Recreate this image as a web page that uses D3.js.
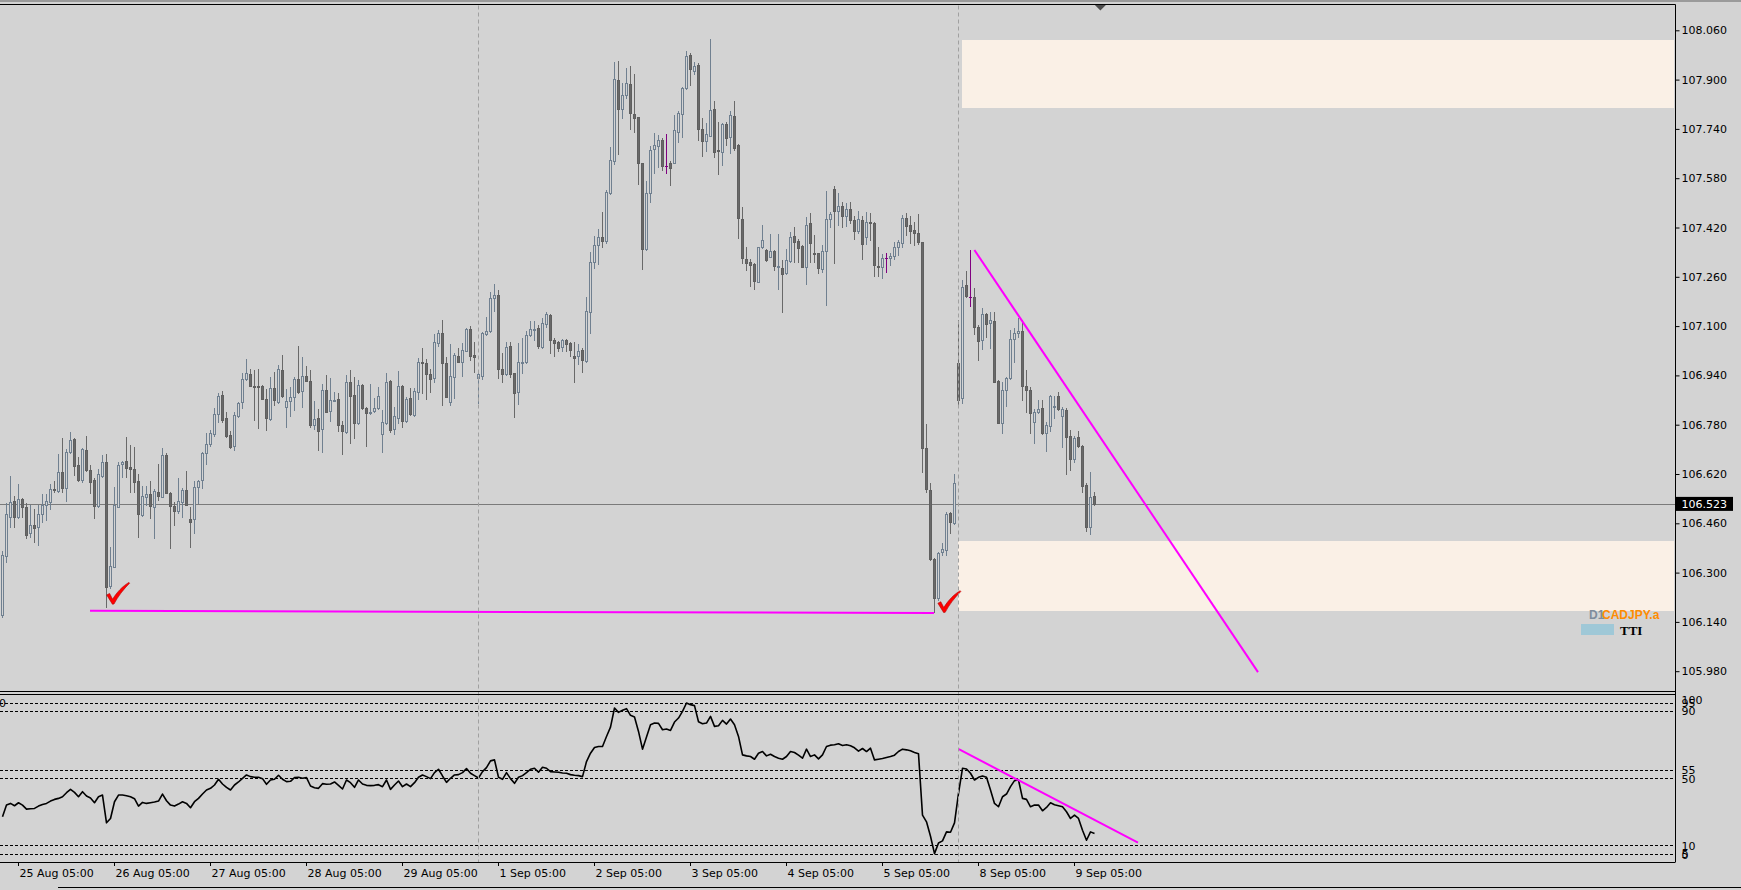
<!DOCTYPE html>
<html><head><meta charset="utf-8">
<script src="https://cdn.jsdelivr.net/npm/d3@7/dist/d3.min.js"></script>
<style>
html,body{margin:0;padding:0;background:#d3d3d3;overflow:hidden;}
svg{display:block;}
</style></head><body>
<svg id="chart" width="1741" height="890"></svg>
<script>
// ---------- DATA (hourly candles, bar 0 = 25 Aug 01:00) ----------
const opens = [
106.162,106.355,106.481,106.532,106.481,106.538,106.512,106.427,106.454,106.449,
106.489,106.519,106.530,106.571,106.565,106.625,106.576,106.690,106.732,106.649,
106.600,106.697,106.632,106.602,106.517,106.614,106.658,106.256,106.319,106.514,
106.651,106.662,106.644,106.636,106.597,106.487,106.546,106.555,106.514,106.563,
106.546,106.682,106.559,106.516,106.501,106.528,106.568,106.474,106.474,106.579,
106.600,106.687,106.716,106.749,106.814,106.876,106.801,106.746,106.712,106.809,
106.855,106.927,106.944,106.905,106.905,106.905,106.863,106.798,106.898,106.853,
106.958,106.836,106.858,106.871,106.928,106.890,106.938,106.922,106.779,106.801,
106.765,106.893,106.826,106.858,106.863,106.779,106.757,106.917,106.876,106.784,
106.909,106.833,106.817,106.824,106.833,106.749,106.784,106.922,106.765,106.803,
106.906,106.793,106.866,106.811,106.887,106.982,106.979,106.943,106.930,107.046,
107.076,106.979,106.855,106.936,107.003,106.985,107.020,107.091,107.006,106.930,
106.939,107.074,107.084,107.190,107.201,106.961,106.943,107.037,106.947,106.885,
106.981,106.982,107.071,107.087,107.093,107.033,107.107,107.136,107.055,107.047,
107.031,107.055,107.044,107.003,107.004,107.022,106.988,107.147,107.307,107.363,
107.390,107.377,107.531,107.637,107.899,107.804,107.850,107.886,107.787,107.778,
107.628,107.350,107.533,107.674,107.686,107.704,107.620,107.630,107.630,107.731,
107.787,107.872,107.980,107.929,107.947,107.739,107.702,107.718,107.805,107.672,
107.666,107.756,107.713,107.782,107.688,107.448,107.318,107.309,107.300,107.244,
107.356,107.347,107.325,107.344,107.293,107.287,107.271,107.311,107.392,107.376,
107.360,107.293,107.433,107.336,107.336,107.285,107.344,107.447,107.544,107.472,
107.490,107.456,107.479,107.445,107.410,107.445,107.388,107.437,107.434,107.295,
107.291,107.320,107.320,107.328,107.356,107.371,107.450,107.429,107.412,107.401,
107.372,106.704,106.568,106.344,106.217,106.368,106.374,106.493,106.460,106.979,
106.868,107.234,107.196,107.194,107.098,107.055,107.140,107.111,107.118,106.923,
106.787,106.893,106.933,107.058,107.077,107.084,106.906,106.893,106.788,106.820,
106.833,106.752,106.777,106.838,106.873,106.809,106.828,106.744,106.668,106.739,
106.711,106.585,106.449,106.547];
const highs = [
106.370,106.525,106.613,106.548,106.586,106.541,106.525,106.519,106.508,106.519,
106.554,106.555,106.586,106.598,106.684,106.738,106.701,106.755,106.736,106.676,
106.703,106.743,106.649,106.606,106.636,106.682,106.684,106.384,106.579,106.658,
106.662,106.741,106.714,106.709,106.619,106.581,106.581,106.597,106.570,106.651,
106.703,106.687,106.563,106.530,106.606,106.576,106.630,106.512,106.598,106.600,
106.692,106.752,106.763,106.835,106.884,106.889,106.822,106.761,106.822,106.855,
106.947,106.992,106.961,106.957,106.961,106.909,106.896,106.934,106.950,106.974,
107.006,106.895,106.903,106.936,107.035,107.001,106.970,106.958,106.858,106.830,
106.912,106.941,106.930,106.885,106.882,106.792,106.941,106.958,106.936,106.925,
106.911,106.838,106.912,106.866,106.901,106.828,106.947,106.925,106.838,106.955,
106.909,106.871,106.900,106.898,106.998,107.028,106.993,106.961,107.073,107.087,
107.120,106.999,107.041,107.012,107.028,107.044,107.093,107.101,107.047,106.958,
107.082,107.131,107.210,107.237,107.217,107.012,107.049,107.047,106.949,107.046,
107.062,107.084,107.118,107.117,107.104,107.125,107.147,107.139,107.060,107.053,
107.058,107.058,107.047,107.049,107.041,107.028,107.195,107.341,107.392,107.415,
107.471,107.542,107.682,107.958,107.960,107.888,107.939,107.945,107.917,107.780,
107.630,107.571,107.686,107.726,107.720,107.712,107.723,107.636,107.785,107.798,
107.877,107.993,107.985,107.956,107.953,107.774,107.760,108.032,107.832,107.761,
107.758,107.763,107.798,107.831,107.690,107.488,107.358,107.318,107.304,107.358,
107.428,107.350,107.399,107.347,107.399,107.314,107.350,107.406,107.423,107.382,
107.363,107.455,107.466,107.396,107.338,107.363,107.537,107.470,107.556,107.533,
107.504,107.501,107.504,107.456,107.472,107.456,107.469,107.466,107.437,107.356,
107.334,107.336,107.336,107.372,107.380,107.461,107.466,107.456,107.437,107.463,
107.374,106.781,106.590,106.347,106.368,106.395,106.498,106.496,106.620,107.120,
107.248,107.280,107.347,107.223,107.102,107.158,107.142,107.147,107.147,106.925,
106.917,106.934,107.088,107.093,107.126,107.120,106.958,106.902,106.830,106.860,
106.860,106.788,106.875,106.873,106.885,106.836,106.833,106.763,106.744,106.761,
106.714,106.590,106.625,106.563];
const lows = [
106.157,106.335,106.449,106.449,106.476,106.481,106.411,106.416,106.400,106.389,
106.465,106.471,106.506,106.563,106.563,106.563,106.532,106.687,106.617,106.598,
106.595,106.630,106.557,106.476,106.514,106.611,106.189,106.249,106.317,106.512,
106.609,106.611,106.563,106.563,106.416,106.485,106.519,106.476,106.413,106.535,
106.544,106.557,106.381,106.454,106.492,106.479,106.519,106.384,106.429,106.525,
106.573,106.651,106.712,106.744,106.790,106.790,106.741,106.706,106.698,106.806,
106.833,106.925,106.904,106.795,106.768,106.863,106.763,106.795,106.845,106.849,
106.871,106.774,106.809,106.828,106.884,106.838,106.921,106.774,106.765,106.698,
106.692,106.820,106.793,106.857,106.761,106.684,106.752,106.722,106.736,106.781,
106.831,106.712,106.815,106.822,106.831,106.690,106.782,106.757,106.750,106.787,
106.771,106.790,106.811,106.809,106.863,106.884,106.863,106.885,106.920,107.036,
106.844,106.869,106.844,106.868,106.982,106.938,107.019,106.990,106.952,106.849,
106.927,107.070,107.082,107.149,106.930,106.920,106.941,106.934,106.806,106.847,
106.947,106.979,107.069,107.055,107.028,107.028,107.098,107.012,107.004,107.019,
107.020,107.019,107.004,106.920,106.976,106.952,106.982,107.079,107.290,107.300,
107.356,107.369,107.529,107.626,107.657,107.776,107.839,107.740,107.731,107.560,
107.285,107.347,107.504,107.596,107.615,107.607,107.598,107.558,107.628,107.699,
107.715,107.868,107.883,107.917,107.704,107.653,107.669,107.716,107.648,107.593,
107.623,107.688,107.661,107.672,107.385,107.304,107.282,107.231,107.220,107.242,
107.353,107.312,107.323,107.282,107.220,107.147,107.268,107.309,107.307,107.307,
107.291,107.237,107.307,107.307,107.271,107.277,107.169,107.423,107.306,107.429,
107.423,107.426,107.434,107.383,107.401,107.317,107.366,107.380,107.261,107.261,
107.255,107.274,107.299,107.317,107.331,107.356,107.396,107.371,107.364,107.367,
106.625,106.563,106.341,106.173,106.211,106.357,106.357,106.428,106.457,106.844,
106.850,107.196,107.166,107.074,106.990,107.026,107.066,107.028,106.918,106.785,
106.752,106.841,106.929,106.985,107.066,106.860,106.820,106.752,106.720,106.817,
106.750,106.696,106.758,106.801,106.828,106.709,106.619,106.633,106.658,106.709,
106.563,106.435,106.424,106.520];
const closes = [
106.357,106.489,106.528,106.481,106.538,106.512,106.422,106.456,106.446,106.489,
106.519,106.532,106.571,106.567,106.625,106.576,106.690,106.729,106.647,106.600,
106.700,106.633,106.595,106.517,106.619,106.659,106.254,106.321,106.519,106.649,
106.660,106.640,106.636,106.595,106.489,106.548,106.555,106.517,106.566,106.550,
106.682,106.559,106.517,106.501,106.532,106.568,106.521,106.465,106.577,106.597,
106.689,106.717,106.752,106.814,106.873,106.795,106.744,106.709,106.811,106.852,
106.928,106.947,106.907,106.901,106.901,106.865,106.801,106.898,106.860,106.961,
106.874,106.857,106.869,106.928,106.887,106.938,106.923,106.779,106.797,106.761,
106.893,106.822,106.860,106.860,106.779,106.761,106.917,106.874,106.787,106.909,
106.833,106.817,106.822,106.835,106.873,106.790,106.917,106.763,106.808,106.906,
106.793,106.863,106.815,106.889,106.982,106.979,106.943,106.928,107.047,107.076,
106.979,106.871,106.938,107.005,106.985,107.022,107.091,107.003,107.001,106.943,
107.076,107.084,107.190,107.201,106.960,106.943,107.033,106.944,106.882,106.982,
106.982,107.071,107.090,107.091,107.036,107.109,107.138,107.055,107.044,107.030,
107.055,107.041,107.024,106.995,107.020,106.990,107.149,107.307,107.363,107.388,
107.377,107.534,107.639,107.901,107.805,107.850,107.888,107.791,107.776,107.628,
107.350,107.531,107.672,107.688,107.704,107.621,107.620,107.612,107.736,107.791,
107.872,107.977,107.934,107.944,107.739,107.702,107.723,107.801,107.666,107.668,
107.756,107.709,107.785,107.677,107.450,107.320,107.306,107.298,107.247,107.356,
107.379,107.314,107.344,107.296,107.295,107.268,107.314,107.388,107.374,107.352,
107.293,107.428,107.369,107.333,107.287,107.344,107.447,107.463,107.472,107.490,
107.456,107.479,107.443,107.409,107.447,107.366,107.437,107.434,107.297,107.293,
107.320,107.320,107.328,107.356,107.372,107.450,107.425,107.410,107.401,107.372,
106.704,106.570,106.343,106.219,106.363,106.376,106.489,106.463,106.590,106.860,
107.226,107.199,107.196,107.098,107.053,107.140,107.107,107.120,106.920,106.787,
106.893,106.931,107.058,107.077,107.084,106.907,106.891,106.817,106.820,106.831,
106.752,106.779,106.873,106.840,106.830,106.830,106.739,106.668,106.738,106.712,
106.581,106.449,106.545,106.523];
const rsi = [
27,34,35,33.6,35.4,34,31.6,31.8,32,33.4,
34.4,35,36.4,37.4,38,39,41.4,43.4,41.6,39,
42,39.4,38.2,35.4,39,40,23.4,26,36,40,
40,39.6,39,37.8,33.4,35.6,35,35.4,35.8,36.4,
40.6,36.6,34,33.4,34.6,36,35,32.4,36,38,
40.6,43,44,46,49.4,46.6,44.6,43,46,47.8,
50,52,51,50.6,50.6,49.8,46.4,49,49.4,51.8,
49.4,48,48.2,50.4,50.6,50,50.4,45.4,44.4,44,
46.8,46.4,46.6,47.8,45.8,43.6,49,47.4,44.6,49,
46.6,45.8,45.6,45.8,46.2,45,49,43.4,46,48.4,
45,46.6,45,47.4,50.6,52,51,49.8,53.4,55.4,
51.4,47.6,50,52,52.2,53.4,55.8,53,51.6,50.2,
54,56.4,60.4,61,50.6,49.4,53.4,49.8,47,50.6,
51.6,53.4,55.4,56,53.6,56.6,56,54,53.8,53.6,
53.2,53,52.2,51.8,51.6,51,60,65,68.4,69,
69,75,80.6,92,89.4,90.6,91.6,87.6,86.6,78,
67.4,74.6,82,83,82.8,79,79.4,78.6,83.6,86,
90,95,94,93.4,83.8,82.6,83,87,81,81.4,
84.6,82.4,85.4,82,75,64,63.4,63,61.4,65,
66,63.4,64.4,63,62,61.4,63,66,65.4,63.8,
62,67.4,63,64,61.6,64,69,69.8,70,70.6,
69.6,70,69.4,68.2,66.2,67.8,66,68,61,61.4,
61.8,62.4,63,63.8,66,67.4,67,66.4,65.4,64.6,
28,24,15.4,5,11.4,12.6,18,17.8,23.4,41,
56,55.6,53,49,50.6,51.4,50.6,43,35,33,
39,40.6,45,48.6,49,38,37.4,33,34,34,
30.6,32.6,35.4,34.2,33.6,33,30,26,28,26,
19,13,18,17];
const priceTicks = [108.06,107.90,107.74,107.58,107.42,107.26,107.10,106.94,106.78,106.62,106.46,106.30,106.14,105.98];
const dateLabels = ["25 Aug 05:00","26 Aug 05:00","27 Aug 05:00","28 Aug 05:00","29 Aug 05:00","1 Sep 05:00","2 Sep 05:00","3 Sep 05:00","4 Sep 05:00","5 Sep 05:00","8 Sep 05:00","9 Sep 05:00"];
const dateBars = [4,28,52,76,100,124,148,172,196,220,244,268];
const separatorBars = [119.1, 239.1];
const rsiLevels = [95,90,55,50,10,5];
const rsiAxisLabels = [[100,700.5],[95,703],[90,711.5],[55,770.5],[50,779],[10,846],[5,854],[0,855.5]];
const lastPrice = 106.523;
const zoneFrom = [240, 239];
const zoneTop = [108.028, 106.402];
const zoneBottom = [107.807, 106.175];
const supportBars = [22, 233];
const supportPrices = [106.176, 106.169];
const downBars = [243.1, 314];
const downPrices = [107.347, 105.977];
const rsiTrendBars = [239.2, 284];
const rsiTrendValues = [67.4, 11.6];
const checkBars = [27.8, 235.6];
const checkPrices = [106.200, 106.173];
const shiftMarkerBar = 274.6;

// ---------- LAYOUT ----------
const svg = d3.select("#chart");
const W = 1741, H = 890;
const plotRight = 1675.5;
const mainTop = 4.5, mainBottom = 691.5;
const indTop = 694.5, indBottom = 862;

const x = d3.scaleLinear().domain([0, 418.375]).range([2, plotRight]);
const y = d3.scaleLinear().domain([105.98, 108.06]).range([671.2, 30.3]);
const ry = d3.scaleLinear().domain([0, 100]).range([862, 694.6]);

const BG = "#d3d3d3";
const BULL = "#708090";
const BEAR = "#696969";
const DOJI = "#800080";
const MAG = "#ff00ff";
const FONT = "'DejaVu Sans', Tahoma, sans-serif";

svg.append("rect").attr("width", W).attr("height", H).attr("fill", BG);

const defs = svg.append("defs");
defs.append("clipPath").attr("id", "clipMain").append("rect")
  .attr("x", 0).attr("y", mainTop + 0.5).attr("width", plotRight).attr("height", mainBottom - mainTop - 1);
defs.append("clipPath").attr("id", "clipInd").append("rect")
  .attr("x", 0).attr("y", indTop + 0.5).attr("width", plotRight).attr("height", indBottom - indTop - 0.5);

// window frame lines
svg.append("rect").attr("x", 0).attr("y", 0).attr("width", W).attr("height", 2).attr("fill", "#9a9a9a");

const main = svg.append("g").attr("clip-path", "url(#clipMain)");
const ind = svg.append("g").attr("clip-path", "url(#clipInd)");

// period separators (across both panels)
separatorBars.forEach(b => {
  const sx = Math.round(x(b)) + 0.5;
  svg.append("line").attr("x1", sx).attr("x2", sx).attr("y1", mainTop + 1).attr("y2", indBottom)
    .attr("stroke", "#a0a0a0").attr("stroke-width", 1).attr("stroke-dasharray", "4,3");
});

// zones
zoneFrom.forEach((b, k) => {
  main.append("rect")
    .attr("x", Math.round(x(b)))
    .attr("y", Math.round(y(zoneTop[k])))
    .attr("width", plotRight - Math.round(x(b)) - 1.5)
    .attr("height", Math.round(y(zoneBottom[k])) - Math.round(y(zoneTop[k])))
    .attr("fill", "#faf0e6");
});

// current price line
const lpY = Math.round(y(lastPrice)) + 0.5;
main.append("line").attr("x1", 0).attr("x2", plotRight).attr("y1", lpY).attr("y2", lpY)
  .attr("stroke", "#7a7a7a").attr("stroke-width", 1);

// candles
const candles = main.append("g");
opens.forEach((o, i) => {
  const h = highs[i], l = lows[i], c = closes[i];
  const cx = Math.round(x(i));
  const isDoji = o === c;
  const bull = c > o;
  const col = isDoji ? DOJI : (bull ? BULL : BEAR);
  candles.append("line")
    .attr("x1", cx + 0.5).attr("x2", cx + 0.5)
    .attr("y1", Math.round(y(h))).attr("y2", Math.round(y(l)) + 1)
    .attr("stroke", col).attr("stroke-width", 1);
  if (isDoji) {
    const yy = Math.round(y(o)) + 0.5;
    candles.append("line").attr("x1", cx - 1).attr("x2", cx + 2).attr("y1", yy).attr("y2", yy)
      .attr("stroke", col).attr("stroke-width", 1);
  } else {
    const yt = Math.round(y(Math.max(o, c)));
    const yb = Math.round(y(Math.min(o, c)));
    candles.append("rect")
      .attr("x", cx - 0.5).attr("y", yt + 0.5)
      .attr("width", 2).attr("height", Math.max(yb - yt, 0.01))
      .attr("fill", bull ? BG : BEAR)
      .attr("stroke", bull ? BULL : "#5f5f5f").attr("stroke-width", 1);
  }
});

// trend lines (main)
main.append("line")
  .attr("x1", x(supportBars[0])).attr("y1", y(supportPrices[0]))
  .attr("x2", x(supportBars[1])).attr("y2", y(supportPrices[1]))
  .attr("stroke", MAG).attr("stroke-width", 2);
main.append("line")
  .attr("x1", x(downBars[0])).attr("y1", y(downPrices[0]))
  .attr("x2", x(downBars[1])).attr("y2", y(downPrices[1]))
  .attr("stroke", MAG).attr("stroke-width", 2);

// check marks
const checkPath = "M -6.5,-8.5 L -3.6,-10 L -0.6,-4.2 C 3.5,-11 9.5,-17.5 15.8,-21 L 16.4,-20.2 C 10.5,-14.5 4.5,-6.5 0.8,0.6 L -0.8,0.8 Z";
checkBars.forEach((b, k) => {
  main.append("path")
    .attr("d", checkPath)
    .attr("transform", `translate(${x(b)},${y(checkPrices[k])})`)
    .attr("fill", "#ff0000").attr("stroke", "#b00000").attr("stroke-width", 0.6);
});

// frames main
svg.append("line").attr("x1", 0).attr("x2", plotRight).attr("y1", mainTop).attr("y2", mainTop).attr("stroke", "#000");
svg.append("line").attr("x1", 0).attr("x2", plotRight).attr("y1", mainBottom).attr("y2", mainBottom).attr("stroke", "#000");
svg.append("line").attr("x1", 0).attr("x2", plotRight).attr("y1", indTop).attr("y2", indTop).attr("stroke", "#000");
svg.append("line").attr("x1", plotRight).attr("x2", plotRight).attr("y1", mainTop).attr("y2", indBottom).attr("stroke", "#000");

// shift marker
const smx = x(shiftMarkerBar);
svg.append("path").attr("d", `M ${smx - 5.5},5 L ${smx + 5.5},5 L ${smx},10.5 Z`).attr("fill", "#4d4d4d");

// price axis
const pAxis = svg.append("g").attr("transform", `translate(${plotRight},0)`)
  .call(d3.axisRight(y).tickValues(priceTicks).tickFormat(d3.format(".3f")).tickSize(4).tickPadding(2));
pAxis.select(".domain").remove();
pAxis.selectAll(".tick line").attr("stroke", "#000");
pAxis.selectAll("text").attr("fill", "#000").style("font-family", FONT).style("font-size", "11px");

// current price label
const lpC = y(lastPrice);
svg.append("rect").attr("x", plotRight + 0.5).attr("y", lpC - 7).attr("width", 57).attr("height", 14).attr("fill", "#000");
svg.append("text").attr("x", plotRight + 6).attr("y", lpC).attr("dy", "0.36em")
  .attr("fill", "#fff").style("font-family", FONT).style("font-size", "11px").text(d3.format(".3f")(lastPrice));

// indicator levels
rsiLevels.forEach(v => {
  const ly = Math.round(ry(v)) + 0.5;
  ind.append("line").attr("x1", 0).attr("x2", plotRight).attr("y1", ly).attr("y2", ly)
    .attr("stroke", "#000").attr("stroke-width", 1).attr("stroke-dasharray", "3,2");
});

// RSI line
const rsiLine = d3.line().x((d, i) => x(i) + 0.5).y(d => ry(d));
ind.append("path").datum(rsi).attr("d", rsiLine).attr("fill", "none")
  .attr("stroke", "#000").attr("stroke-width", 1.6).attr("stroke-linejoin", "round");

// RSI trend line
ind.append("line")
  .attr("x1", x(rsiTrendBars[0])).attr("y1", ry(rsiTrendValues[0]))
  .attr("x2", x(rsiTrendBars[1])).attr("y2", ry(rsiTrendValues[1]))
  .attr("stroke", MAG).attr("stroke-width", 2);

// indicator axis labels
rsiAxisLabels.forEach(([v, yy]) => {
  svg.append("text").attr("x", plotRight + 6).attr("y", yy).attr("dy", "0.36em")
    .attr("fill", "#000").style("font-family", FONT).style("font-size", "11px").text(v);
});
svg.append("text").attr("x", -1).attr("y", 703).attr("dy", "0.36em")
  .attr("fill", "#000").style("font-family", FONT).style("font-size", "11px").text("0");

// time axis
svg.append("line").attr("x1", 0).attr("x2", plotRight).attr("y1", indBottom + 0.5).attr("y2", indBottom + 0.5).attr("stroke", "#000");
dateBars.forEach((b, k) => {
  const tx = Math.round(x(b)) + 0.5;
  svg.append("line").attr("x1", tx).attr("x2", tx).attr("y1", indBottom).attr("y2", indBottom + 4).attr("stroke", "#000");
  svg.append("text").attr("x", tx + 1).attr("y", 876.5)
    .attr("fill", "#000").style("font-family", FONT).style("font-size", "11px").text(dateLabels[k]);
});
svg.append("line").attr("x1", 58).attr("x2", W).attr("y1", 887.5).attr("y2", 887.5).attr("stroke", "#000");

// legend
svg.append("text").attr("x", 1589).attr("y", 618.5)
  .attr("fill", "#7f8c9c").style("font-family", "'Liberation Sans', Arial, sans-serif")
  .style("font-size", "12px").style("font-weight", "bold").text("D1");
svg.append("text").attr("x", 1602).attr("y", 618.5)
  .attr("fill", "#ff8c00").style("font-family", "'Liberation Sans', Arial, sans-serif")
  .style("font-size", "12px").style("font-weight", "bold").text("CADJPY.a");
svg.append("rect").attr("x", 1581).attr("y", 624).attr("width", 33).attr("height", 11).attr("fill", "#9fc8d7");
svg.append("text").attr("x", 1620).attr("y", 634.5)
  .attr("fill", "#000").style("font-family", "'Liberation Serif', serif")
  .style("font-size", "13px").style("font-weight", "bold").text("TTI");
</script>
</body></html>
